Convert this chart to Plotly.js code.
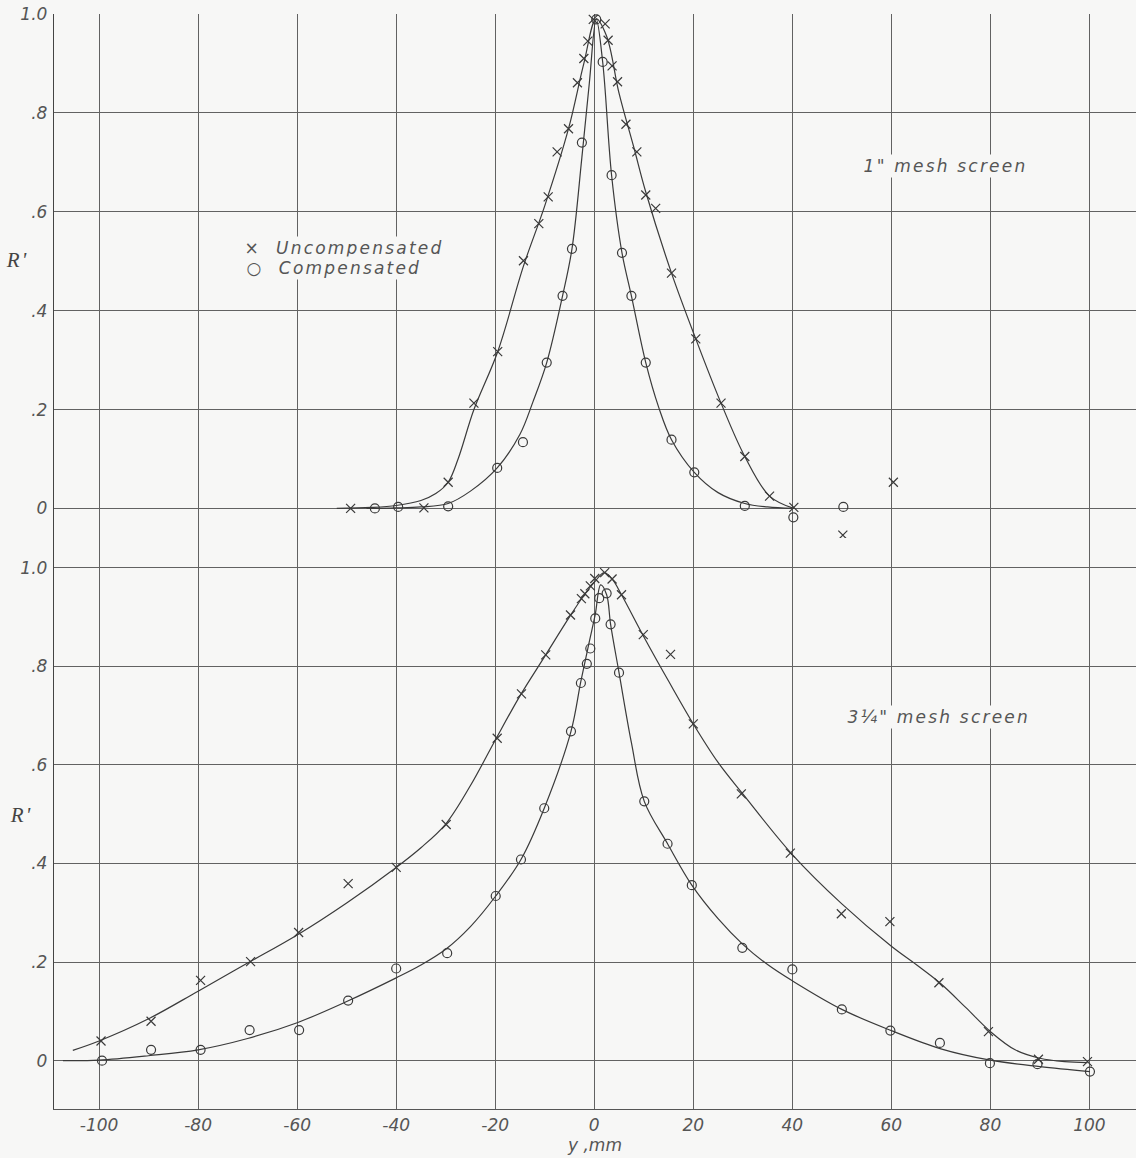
<!DOCTYPE html>
<html>
<head>
<meta charset="utf-8">
<script src="https://cdn.plot.ly/plotly-3.0.1.min.js"></script>
<style>
html,body{margin:0;padding:0;background:#f7f7f6;}
#chart{width:1136px;height:1158px;}
#chart .annotation-text{letter-spacing:2.2px;}
#chart .xtick text{letter-spacing:2px;}
</style>
</head>
<body>
<div id="chart"></div>
<script>
// ---------- 1" mesh screen (top panel) ----------
const topUncX = [-49.2, -34.4, -29.5, -24.3, -19.5, -14.3, -11.2, -9.3, -7.5, -5.2, -3.4, -2.1, -1.3, -0.2, 2.2, 2.8, 3.6, 4.7, 6.4, 8.6, 10.4, 12.4, 15.6, 20.5, 25.6, 30.4, 35.4, 40.3, 50.2, 60.4];
const topUncY = [0.0, 0.001, 0.053, 0.213, 0.317, 0.501, 0.576, 0.63, 0.721, 0.768, 0.861, 0.91, 0.945, 0.989, 0.98, 0.947, 0.895, 0.863, 0.777, 0.721, 0.634, 0.607, 0.476, 0.343, 0.213, 0.105, 0.025, 0.002, -0.054, 0.053];
const topCompX = [-44.3, -39.6, -29.5, -19.6, -14.4, -9.6, -6.4, -4.5, -2.5, 0.4, 1.7, 3.5, 5.6, 7.5, 10.4, 15.6, 20.2, 30.4, 40.2, 50.3];
const topCompY = [0.0, 0.003, 0.004, 0.082, 0.134, 0.295, 0.43, 0.525, 0.74, 0.989, 0.903, 0.674, 0.517, 0.43, 0.295, 0.139, 0.073, 0.005, -0.018, 0.003];
// faired curves
const topUncCurveX = [-52, -45, -40, -35, -32, -29.5, -27.5, -24.3, -19.5, -14.3, -10, -5.2, -2.1, 0.4, 2.5, 5, 8, 10.4, 15.6, 20.5, 25.6, 30.4, 35.4, 40.3];
const topUncCurveY = [0.0, 0.002, 0.006, 0.016, 0.03, 0.053, 0.1, 0.2, 0.317, 0.49, 0.612, 0.768, 0.9, 0.99, 0.955, 0.84, 0.73, 0.64, 0.476, 0.343, 0.213, 0.105, 0.025, 0.0];
const topCompCurveX = [-46, -40, -35, -29.5, -25, -19.6, -15, -12.4, -9.6, -6.4, -4.5, -2.5, -1, 0.4, 1.7, 3.5, 5.6, 7.5, 10.4, 13, 15.6, 20.2, 25, 30.4, 35, 40];
const topCompCurveY = [0.0, 0.001, 0.003, 0.01, 0.035, 0.082, 0.15, 0.215, 0.295, 0.43, 0.525, 0.71, 0.86, 0.99, 0.903, 0.674, 0.517, 0.43, 0.295, 0.205, 0.139, 0.073, 0.032, 0.01, 0.003, 0.0];

// ---------- 3 1/4" mesh screen (bottom panel) ----------
const botUncX = [-99.6, -89.5, -79.5, -69.4, -59.7, -49.7, -40.0, -29.9, -19.6, -14.7, -9.8, -4.8, -2.6, -1.9, -0.8, 0.1, 2.1, 3.6, 5.5, 9.9, 15.4, 20.0, 29.7, 39.6, 49.9, 59.7, 69.6, 79.6, 89.7, 99.6];
const botUncY = [0.04, 0.08, 0.163, 0.201, 0.26, 0.359, 0.392, 0.479, 0.654, 0.744, 0.823, 0.904, 0.937, 0.947, 0.963, 0.978, 0.99, 0.977, 0.945, 0.864, 0.824, 0.683, 0.541, 0.421, 0.298, 0.282, 0.158, 0.059, 0.003, -0.002];
const botCompX = [-99.4, -89.5, -79.5, -69.6, -59.6, -49.7, -40.0, -29.7, -19.9, -14.8, -10.1, -4.7, -2.7, -1.5, -0.8, 0.2, 1.0, 2.5, 3.3, 5.0, 10.1, 14.8, 19.7, 29.9, 40.0, 50.0, 59.8, 69.8, 79.9, 89.5, 100.1];
const botCompY = [0.0, 0.022, 0.022, 0.062, 0.062, 0.122, 0.187, 0.218, 0.334, 0.408, 0.512, 0.668, 0.766, 0.805, 0.836, 0.897, 0.938, 0.948, 0.885, 0.787, 0.526, 0.44, 0.356, 0.229, 0.185, 0.104, 0.061, 0.036, -0.005, -0.007, -0.022];
const botUncCurveX = [-105.3, -100, -90, -80, -70, -60, -50, -40, -35, -30, -25, -20, -15, -10, -5, -2, 0, 2, 3.6, 5.5, 10, 15, 20, 25, 30, 40, 50, 60, 65, 70, 75, 80, 85, 90, 95, 99.6];
const botUncCurveY = [0.021, 0.04, 0.085, 0.141, 0.198, 0.255, 0.32, 0.392, 0.432, 0.48, 0.558, 0.65, 0.74, 0.82, 0.9, 0.945, 0.97, 0.99, 0.977, 0.945, 0.86, 0.77, 0.683, 0.605, 0.541, 0.418, 0.318, 0.232, 0.195, 0.156, 0.108, 0.059, 0.022, 0.005, -0.002, -0.004];
const botCompCurveX = [-107.3, -100, -90, -80, -70, -60, -50, -40, -35, -30, -25, -19.9, -14.8, -10.1, -4.7, -2.7, -1, 0.2, 1.3, 2.5, 3.3, 5, 7.5, 10.1, 14.8, 19.7, 25, 30, 35, 40, 50, 60, 70, 80, 90, 100.1];
const botCompCurveY = [0.0, 0.001, 0.01, 0.022, 0.045, 0.077, 0.12, 0.168, 0.194, 0.226, 0.272, 0.334, 0.408, 0.512, 0.668, 0.77, 0.85, 0.905, 0.965, 0.945, 0.885, 0.787, 0.645, 0.526, 0.44, 0.356, 0.288, 0.236, 0.195, 0.162, 0.104, 0.061, 0.024, 0.001, -0.012, -0.022];

const xTickVals = [-100, -80, -60, -40, -20, 0, 20, 40, 60, 80, 100];
const xTickText = ["-100", "-80", "-60", "-40", "-20", "0", "20", "40", "60", "80", "100"];
const yTickVals = [0, 0.2, 0.4, 0.6, 0.8, 1.0];
const yTickText = ["0", ".2", ".4", ".6", ".8", "1.0"];

const ink = '#3a3a3a';
const gridC = '#626262';
const txtC = '#555555';
const lett = {family: 'DejaVu Sans, sans-serif', size: 17, color: txtC, style: 'italic'};

function curve(x, y, xa, ya) {
  return {x: x, y: y, xaxis: xa, yaxis: ya, mode: 'lines', type: 'scatter',
    line: {color: ink, width: 1.2, shape: 'spline', smoothing: 1}, hoverinfo: 'skip', showlegend: false};
}
function marks(x, y, xa, ya, sym, name) {
  return {x: x, y: y, xaxis: xa, yaxis: ya, mode: 'markers', type: 'scatter', name: name, showlegend: false,
    marker: {symbol: sym, size: 9, color: ink, line: {color: ink, width: 1.2}}};
}

const data = [
  curve(topUncCurveX, topUncCurveY, 'x', 'y'),
  curve(topCompCurveX, topCompCurveY, 'x', 'y'),
  marks(topUncX, topUncY, 'x', 'y', 'x-thin-open', 'Uncompensated'),
  marks(topCompX, topCompY, 'x', 'y', 'circle-open', 'Compensated'),
  curve(botUncCurveX, botUncCurveY, 'x2', 'y2'),
  curve(botCompCurveX, botCompCurveY, 'x2', 'y2'),
  marks(botUncX, botUncY, 'x2', 'y2', 'x-thin-open', 'Uncompensated'),
  marks(botCompX, botCompY, 'x2', 'y2', 'circle-open', 'Compensated')
];

const split = 0.5215;
const xCommon = {range: [-109.1, 109.4], tickvals: xTickVals, showgrid: true, gridcolor: gridC, gridwidth: 1,
  zeroline: false, ticks: '', fixedrange: true};
const yCommon = {tickvals: yTickVals, ticktext: yTickText, showgrid: true, gridcolor: gridC, gridwidth: 1,
  zeroline: false, ticks: '', showline: true, linecolor: '#444', linewidth: 1.2,
  tickfont: {family: 'DejaVu Sans, sans-serif', size: 17, color: txtC, style: 'italic'}, ticklabelstandoff: 2};

const layout = {
  width: 1136, height: 1158,
  margin: {l: 54, r: 0, t: 14, b: 49},
  paper_bgcolor: '#f7f7f6', plot_bgcolor: '#f7f7f6',
  showlegend: false,
  xaxis: Object.assign({}, xCommon, {anchor: 'y', domain: [0, 1], showticklabels: false}),
  yaxis: Object.assign({}, yCommon, {anchor: 'x', domain: [split, 1], range: [-0.0597, 1.0]}),
  xaxis2: Object.assign({}, xCommon, {anchor: 'y2', domain: [0, 1], ticktext: xTickText, showticklabels: true,
    showline: true, linecolor: '#555', linewidth: 1.2,
    tickfont: {family: 'DejaVu Sans, sans-serif', size: 17, color: txtC, style: 'italic'},
    title: {text: 'y ,mm', standoff: 0, font: {family: 'DejaVu Sans, sans-serif', size: 17, color: txtC, style: 'italic'}}}),
  yaxis2: Object.assign({}, yCommon, {anchor: 'x2', domain: [0, split], range: [-0.098, 1.0602]}),
  annotations: [
    {xref: 'x', yref: 'y', x: -67.5, y: 0.527, text: '×  Uncompensated', showarrow: false, xanchor: 'left', yanchor: 'middle', font: lett, bgcolor: '#f7f7f6'},
    {xref: 'x', yref: 'y', x: -67.5, y: 0.487, text: '○  Compensated', showarrow: false, xanchor: 'left', yanchor: 'middle', font: lett, bgcolor: '#f7f7f6'},
    {xref: 'x', yref: 'y', x: 71, y: 0.692, text: '1" mesh screen', showarrow: false, xanchor: 'center', yanchor: 'middle', font: lett, bgcolor: '#f7f7f6'},
    {xref: 'x2', yref: 'y2', x: 69.5, y: 0.697, text: '3¼" mesh screen', showarrow: false, xanchor: 'center', yanchor: 'middle', font: lett, bgcolor: '#f7f7f6'},
    {xref: 'paper', yref: 'paper', x: -0.0333, y: 0.775, text: "R'", showarrow: false, xanchor: 'center', yanchor: 'middle',
      font: {family: 'Liberation Serif, serif', size: 21, color: '#444', style: 'italic'}},
    {xref: 'paper', yref: 'paper', x: -0.03, y: 0.2685, text: "R'", showarrow: false, xanchor: 'center', yanchor: 'middle',
      font: {family: 'Liberation Serif, serif', size: 21, color: '#444', style: 'italic'}}
  ]
};

Plotly.newPlot('chart', data, layout, {displayModeBar: false, staticPlot: true});
</script>
</body>
</html>
